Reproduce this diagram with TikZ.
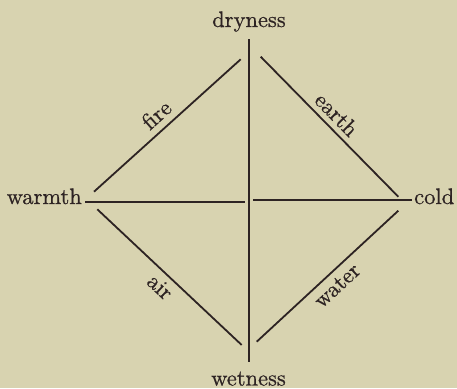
\documentclass[tikz,border=0pt]{standalone}
\usepackage{fontspec}
\newfontfamily\heavyrm{lmroman10-regular}[Extension=.otf, FakeBold=0.7]
\definecolor{paper}{RGB}{216,211,176}
\definecolor{ink}{RGB}{45,35,35}
\tikzset{
  lbl/.style={inner sep=0pt, text=ink, font=\heavyrm\fontsize{22.5}{26}\selectfont},
  rule/.style={draw=ink, line width=1.8pt},
}
\begin{document}
\begin{tikzpicture}[x=1pt,y=-1pt]
\fill[paper] (0,0) rectangle (457,388);
\useasboundingbox (0,0) rectangle (457,388);
% labels
\node[lbl, anchor=base] (dry) at (249,27) {dryness};
\node[lbl, anchor=base] (wet) at (248.5,385.5) {wetness};
\node[lbl, anchor=base east] (warm) at (82,204) {warmth};
\node[lbl, anchor=base west] (cold) at (414,204) {cold};
% end points
\coordinate (vt) at (249,39);
\coordinate (vb) at (249,362);
\coordinate (hl1) at (85,202);
\coordinate (hl2) at (245,202);
\coordinate (hr1) at (253,200);
\coordinate (hr2) at (412,200);
\coordinate (f1) at (94,191.7);
\coordinate (f2) at (240.7,59.3);
\coordinate (e1) at (260.7,56.7);
\coordinate (e2) at (398.3,196.7);
\coordinate (a1) at (97.3,209.3);
\coordinate (a2) at (241.7,345);
\coordinate (w1) at (256.7,341.7);
\coordinate (w2) at (398.3,210.7);
% lines
\draw[rule] (vt) -- (vb);
\draw[rule] (hl1) -- (hl2);
\draw[rule] (hr1) -- (hr2);
\draw[rule] (f1) -- node[lbl, sloped, above=6.5pt, pos=0.495] (fire) {fire} (f2);
\draw[rule] (e1) -- node[lbl, sloped, above=5pt, pos=0.481] (earth) {earth} (e2);
\draw[rule] (a1) -- node[lbl, sloped, below=5pt, pos=0.5] (air) {air} (a2);
\draw[rule] (w1) -- node[lbl, sloped, below=5.5pt, pos=0.504] (water) {water} (w2);
\end{tikzpicture}
\end{document}
